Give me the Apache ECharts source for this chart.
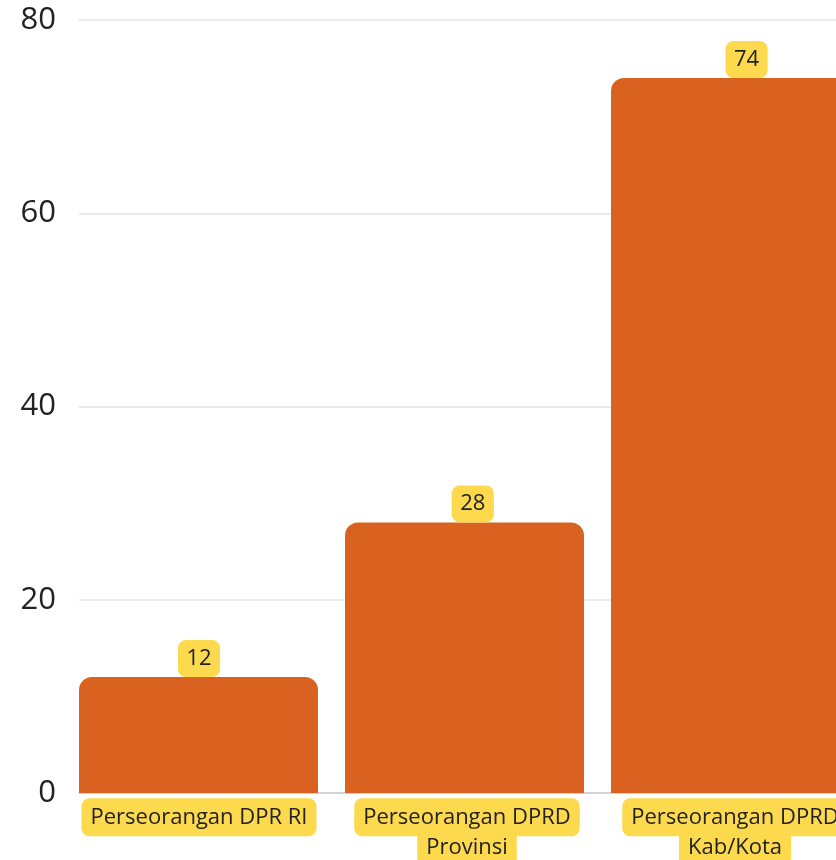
<!DOCTYPE html>
<html>
<head>
<meta charset="utf-8">
<script src="https://cdn.jsdelivr.net/npm/echarts@6/dist/echarts.min.js"></script>
<style>
html,body{margin:0;padding:0;background:#fff;}
#chart{width:836px;height:860px;}
</style>
</head>
<body>
<div id="chart"></div>
<script>
var categories = ['Perseorangan DPR RI', 'Perseorangan DPRD Provinsi', 'Perseorangan DPRD Kab/Kota'];
var values = [12, 28, 74];
var yMin = 0, yMax = 80, yInterval = 20;

var chart = echarts.init(document.getElementById('chart'));
var FONT = 'Open Sans';
var YELLOW = '#FDDA4D';
var BAR = '#D96220';
var TOP = 20, BOTTOM = 67;

function g(left, width) {
  var o = { top: TOP, bottom: BOTTOM, outerBoundsMode: 'none', left: left };
  if (width == null) { o.right = 0; } else { o.width = width; }
  return o;
}
function hiddenY(i) {
  return { gridIndex: i, type: 'value', min: yMin, max: yMax, interval: yInterval, show: false, splitLine: { show: false } };
}
function hiddenX(i) {
  return { gridIndex: i, type: 'category', data: categories, show: false };
}

var option = {
  animation: false,
  textStyle: { fontFamily: FONT },
  grid: [
    g(79, null),      // axes + gridlines
    g(65.5, 798),     // bars
    g(62.1, 821.4),   // value labels
    g(65, 804)        // category labels
  ],
  xAxis: [
    {
      gridIndex: 0, type: 'category', data: categories,
      axisLine: { show: true, lineStyle: { color: '#cccccc', width: 1.5 } },
      axisTick: { show: false }, axisLabel: { show: false }
    },
    hiddenX(1),
    hiddenX(2),
    {
      gridIndex: 3, type: 'category', data: categories,
      axisLine: { show: false }, axisTick: { show: false },
      axisLabel: {
        interval: 0, margin: 9,
        formatter: function (v) {
          return v.replace('DPRD ', 'DPRD\n').split('\n').map(function (s) { return '{a|' + s + '}'; }).join('\n');
        },
        rich: {
          a: {
            fontFamily: FONT, fontSize: 22, color: '#222222', lineHeight: 30.5,
            backgroundColor: YELLOW, borderRadius: 8, padding: [8, 9]
          }
        }
      }
    }
  ],
  yAxis: [
    {
      gridIndex: 0, type: 'value', min: yMin, max: yMax, interval: yInterval,
      axisLine: { show: false }, axisTick: { show: false },
      axisLabel: { fontFamily: FONT, fontSize: 31, color: '#222222', margin: 23 },
      splitLine: { lineStyle: { color: '#e3e3e3', width: 1.5 } }
    },
    hiddenY(1),
    hiddenY(2),
    hiddenY(3)
  ],
  series: [
    {
      type: 'bar', xAxisIndex: 1, yAxisIndex: 1,
      data: values, barWidth: 239,
      itemStyle: { color: BAR, borderRadius: [13, 13, 0, 0] }
    },
    {
      type: 'bar', xAxisIndex: 2, yAxisIndex: 2,
      data: values, barWidth: 1, silent: true,
      itemStyle: { color: 'rgba(0,0,0,0)' },
      label: {
        show: true, position: 'top', distance: 0,
        fontFamily: FONT, fontSize: 22, color: '#222222', lineHeight: 22,
        backgroundColor: YELLOW, borderRadius: 8, padding: [7.5, 8.5]
      }
    }
  ]
};
chart.setOption(option);
</script>
</body>
</html>
